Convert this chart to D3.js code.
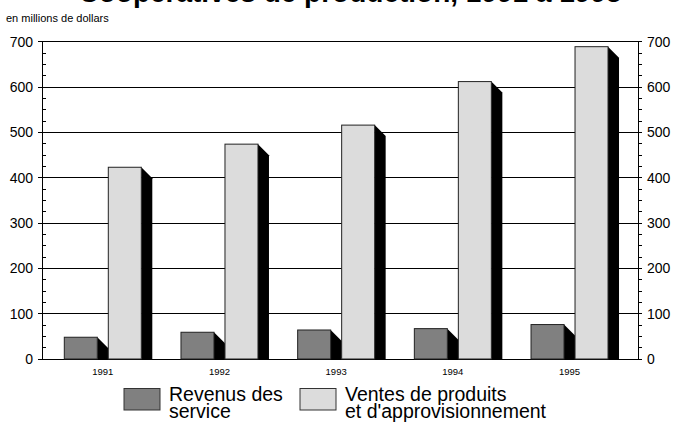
<!DOCTYPE html>
<html><head><meta charset="utf-8">
<script src="https://cdn.jsdelivr.net/npm/d3@7"></script>
<style>html,body{margin:0;padding:0;background:#fff;overflow:hidden}svg{display:block}</style>
</head><body>
<script>
const years = ["1991","1992","1993","1994","1995"];
const seriesNames = ["Revenus des service","Ventes de produits et d'approvisionnement"];
const serviceRevenue = [48, 59, 64, 67, 76];
const productSales = [423, 474, 516, 612, 689];
const yTicks = [0,100,200,300,400,500,600,700];
const titleText = "Coopératives de production, 1991 à 1995";
const subtitleText = "en millions de dollars";
const legendLines = [["Revenus des","service"],["Ventes de produits","et d'approvisionnement"]];

const W = 679, H = 434;
const svg = d3.select("body").append("svg").attr("width", W).attr("height", H);
const font = "Liberation Sans, Arial, sans-serif";
const colors = ["#808080", "#dcdcdc"];

const L = 42, R = 638, T = 41.7, B = 359;
const y = d3.scaleLinear().domain([0,700]).range([B, T]);
const x0 = d3.scaleBand().domain(years).range([L, R]).paddingInner(0).paddingOuter(0.054);
const x1 = d3.scaleBand().domain(seriesNames).range([16, 93]).paddingInner(0.25).paddingOuter(0);
const depth = 11;

// title (clipped at top)
svg.append("text").attr("x", 350).attr("y", 1.5).attr("text-anchor","middle")
  .attr("font-family", font).attr("font-weight","bold").attr("font-size", 28).text(titleText);
svg.append("text").attr("x", 6).attr("y", 21.5).attr("font-family", font).attr("font-size", 11).text(subtitleText);

// gridlines
svg.append("g").selectAll("line").data(yTicks.filter(d=>d>0)).join("line")
  .attr("x1", L-4).attr("x2", R+4).attr("y1", d=>y(d)).attr("y2", d=>y(d))
  .attr("stroke","#000").attr("stroke-width",1).attr("shape-rendering","crispEdges");

// minor ticks
const minor = d3.range(0, 701, 25).filter(d=>d%100!==0);
svg.append("g").selectAll("line").data(minor).join("line")
  .attr("x1", L).attr("x2", L+4).attr("y1", d=>y(d)).attr("y2", d=>y(d))
  .attr("stroke","#000").attr("shape-rendering","crispEdges");
svg.append("g").selectAll("line").data(minor).join("line")
  .attr("x1", R).attr("x2", R+4).attr("y1", d=>y(d)).attr("y2", d=>y(d))
  .attr("stroke","#000").attr("shape-rendering","crispEdges");

// axes lines
svg.append("line").attr("x1",L).attr("x2",L).attr("y1",T).attr("y2",B).attr("stroke","#000").attr("shape-rendering","crispEdges");
svg.append("line").attr("x1",R).attr("x2",R).attr("y1",T).attr("y2",B).attr("stroke","#000").attr("shape-rendering","crispEdges");
svg.append("line").attr("x1",L-4).attr("x2",R+4).attr("y1",B).attr("y2",B).attr("stroke","#000").attr("shape-rendering","crispEdges");

// y labels
svg.append("g").selectAll("text").data(yTicks).join("text")
  .attr("x", L-9).attr("y", d=>y(d)+5).attr("text-anchor","end")
  .attr("font-family", font).attr("font-size", 14).text(d=>d);
svg.append("g").selectAll("text").data(yTicks).join("text")
  .attr("x", R+9).attr("y", d=>y(d)+5).attr("text-anchor","start")
  .attr("font-family", font).attr("font-size", 14).text(d=>d);

// bars
const data = years.map((yr,i)=>({year: yr, values: [serviceRevenue[i], productSales[i]]}));
const groups = svg.append("g").selectAll("g").data(data).join("g")
  .attr("transform", d=>`translate(${x0(d.year)},0)`);
groups.each(function(d){
  const g = d3.select(this);
  seriesNames.forEach((s,k)=>{
    const v = d.values[k];
    const bx = x1(s), bw = x1.bandwidth(), by = y(v);
    g.append("path")
      .attr("d", `M${bx+bw},${by} L${bx+bw+depth},${by+depth} L${bx+bw+depth},${B} L${bx+bw},${B} Z`)
      .attr("fill","#000");
    g.append("rect").attr("x", bx).attr("y", by).attr("width", bw).attr("height", B-by)
      .attr("fill", colors[k]).attr("stroke","#222").attr("stroke-width",1);
  });
  g.append("text").attr("x", x1(seriesNames[0]) + (x1(seriesNames[1])+x1.bandwidth()-x1(seriesNames[0]))/2)
    .attr("y", 375).attr("text-anchor","middle").attr("font-family", font).attr("font-size", 9.5).text(d.year);
});

// legend
const legX = [124, 300];
legendLines.forEach((lines,k)=>{
  svg.append("rect").attr("x", legX[k]).attr("y", 388.5).attr("width", 36).attr("height", 21.5)
    .attr("fill", colors[k]).attr("stroke","#333").attr("stroke-width",1);
  const t = svg.append("text").attr("x", legX[k]+45).attr("y", 401).attr("font-family", font)
    .attr("font-size", 19.5);
  lines.forEach((s,j)=>{
    t.append("tspan").attr("x", legX[k]+45).attr("dy", j===0 ? 0 : 17).text(s);
  });
});
</script>
</body></html>
